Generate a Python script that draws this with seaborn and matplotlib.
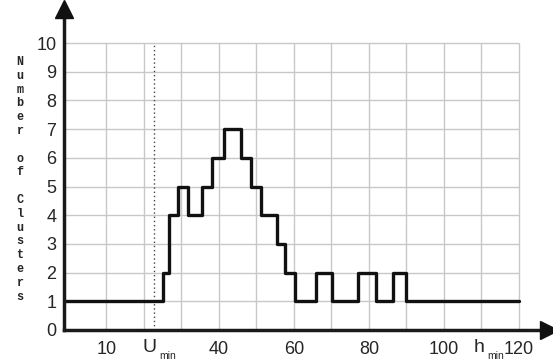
import matplotlib
matplotlib.use("Agg")
import matplotlib.pyplot as plt
import seaborn as sns
import numpy as np

# ---- data ----
edges = [-1.3, 25, 26.7, 29, 31.8, 35.6, 38.2, 41.3, 45.8, 48.6, 51.2, 55.6,
         57.7, 60.4, 65.8, 70.2, 77.2, 81.8, 86.3, 90, 120]
counts = [1, 2, 4, 5, 4, 5, 6, 7, 6, 5, 4, 3, 2, 1, 2, 1, 2, 1, 2, 1]
x_label_pos = [10, 40, 60, 80, 100, 120]
x_label_txt = ["10", "40", "60", "80", "100", "120"]
x_grid = [10, 20, 30, 40, 50, 60, 70, 80, 90, 100, 110, 120]
y_ticks = list(range(0, 11))
u_min = 22.7
y_title = "Number of Clusters"

sns.set_style("white")
plt.rcParams['font.family'] = ['Liberation Sans', 'DejaVu Sans']

W, H = 553, 362
fig = plt.figure(figsize=(W / 100, H / 100), dpi=100)
x0, x1 = -1.3, 128.0
y0, y1 = 0, 11.2
ax = fig.add_axes([64 / W, 32 / H, (3.75 * (x1 - x0)) / W, (28.7 * (y1 - y0)) / H])
ax.set_xlim(x0, x1)
ax.set_ylim(y0, y1)

# grid
ax.hlines(y_ticks[1:], x0, 120, color="#c8c8c8", lw=1, zorder=1)
ax.vlines(x_grid, 0, 10, color="#c8c8c8", lw=1, zorder=1)
# U_min dotted line
ax.vlines([u_min], 0, 10, color="#444444", lw=1, linestyles=(0, (1, 2)), zorder=2)

# step line
xs = edges
ys = counts + [counts[-1]]
sns.lineplot(x=xs, y=ys, drawstyle="steps-post", color="#111111", lw=2.4,
             estimator=None, sort=False, ax=ax, zorder=3)

# spines / axes
for s in ["top", "right"]:
    ax.spines[s].set_visible(False)
for s in ["left", "bottom"]:
    ax.spines[s].set_linewidth(2.5)
    ax.spines[s].set_color("#1a1a1a")
    ax.spines[s].set_zorder(4)

# arrows
ax.plot([0], [1], marker="^", ms=13, color="#111111", transform=ax.transAxes,
        clip_on=False, zorder=5)
ax.plot([1], [0], marker=">", ms=13, color="#111111", transform=ax.transAxes,
        clip_on=False, zorder=5)

ax.set_yticks(y_ticks)
ax.set_yticklabels([str(v) for v in y_ticks], fontsize=13)
ax.set_xticks(x_grid)
lab = {p: t for p, t in zip(x_label_pos, x_label_txt)}
ax.set_xticklabels([lab.get(p, "") for p in x_grid], fontsize=13)
ax.tick_params(axis="y", direction="inout", length=7, width=2, pad=2, color="#1a1a1a")
ax.tick_params(axis="x", direction="out", length=5, width=2, pad=3, color="#1a1a1a")

# U_min and h_min labels (figure pixel coordinates)
def px(x, y):
    return x / W, 1 - y / H

fig.text(*px(150, 348), "U", fontsize=14, ha="center", va="center")
fig.text(*px(159, 356), "min", fontsize=7.5, ha="left", va="center")
fig.text(*px(479, 348), "h", fontsize=14, ha="center", va="center")
fig.text(*px(487, 356), "min", fontsize=7.5, ha="left", va="center")

# y title stacked letters
fig.text(*px(20, 56), "\n".join(list(y_title)), family="Liberation Mono",
         fontweight="bold", fontsize=8.5, ha="center", va="top", linespacing=1.2)

fig.savefig("out.png", dpi=100)
